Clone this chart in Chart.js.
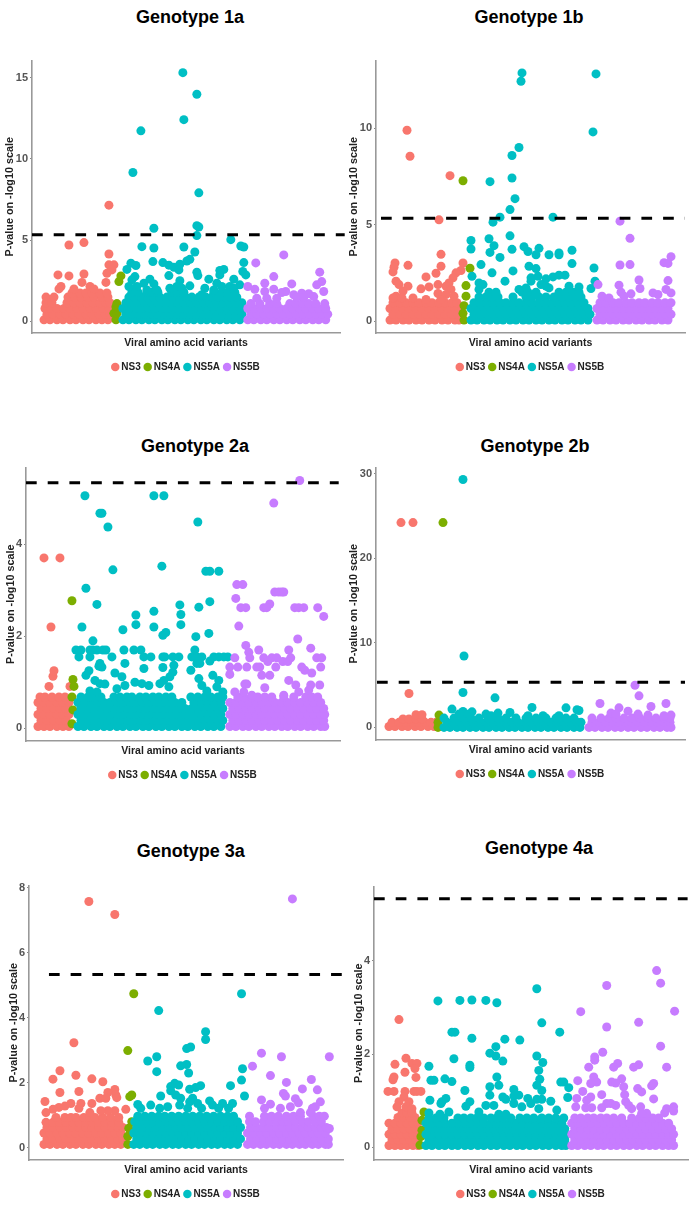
<!DOCTYPE html>
<html>
<head>
<meta charset="utf-8">
<title>Genotypes</title>
<script src="https://cdn.jsdelivr.net/npm/chart.js@4"></script>
<style>
body { margin: 0; background: #fff; }
#wrap { position: relative; width: 693px; height: 1206px; overflow: hidden; }
#wrap canvas { position: absolute; }
.ttl { position: absolute; font: bold 18px "Liberation Sans", Arial, sans-serif; color: #000; transform: translate(-50%, -50%); white-space: nowrap; }
</style>
</head>
<body>
<div id="wrap"></div>
<script>
// rows are [p-value, variant, variant, ...]
const genes = ['NS3', 'NS4A', 'NS5A', 'NS5B'];
const threshold = 5.33;

// Genotype 1a
const ticks1a = [0, 5, 10, 15];
const ns3_1a = [
  [.1,12,18,25,31,38,44,51,57,64,70,76],[.45,15,21,28,34,41,47,54,60,67,73,78],[.8,13,19,25,32,38,45,51,58,64,71,77],
  [1.15,14,20,35,42,48,55,61,68,74,78],[1.5,14,22,36,43,49,56,62,70,76],[1.75,40,48,54,60,68,75],
  [7.15,77],[4.85,52],[4.7,37],[4.15,77],[3.48,77,82],[3.17,80],[2.96,75],[2.92,52],[2.86,26],[2.8,37],[2.4,50,74],[2.15,29,58],[2,27,62,42]
];
const ns4a_1a = [[.1,84],[.5,82,85],[.9,84],[1.1,85],[2.45,87],[2.8,89]];
const ns5a_1a = [
  [.1,91,97,104,110,117,123,130,136,143,149,156,162,169,175,182,188,195,201,208],
  [.45,94,100,107,113,120,126,133,139,146,152,159,165,172,178,185,191,198,204,210],
  [.8,91,97,104,110,117,123,130,136,143,149,156,162,169,175,182,188,195,201,208],
  [1.15,94,100,107,113,120,126,133,139,146,152,159,165,172,178,185,191,198,204,210],
  [1.5,97,103,110,116,122,128,135,141,148,154,160,167,174,180,186,193,199,205],
  [1.8,100,106,115,120,126,140,146,152,182,190,196,203],
  [15.3,151],[13.97,165],[12.41,152],[11.72,109],[9.16,101],[7.91,167],[5.89,165],[5.81,167],[5.73,122],[5.28,165],[5.03,199],
  [4.64,209],[4.6,110],[4.58,152,212],[4.52,122],[4.27,163],[3.82,158],[3.72,155],[3.68,121],[3.62,131,212],[3.58,99],[3.52,148],[3.46,137],[3.44,104],
  [3.33,142],[3.2,95,192],[3.17,147],[3.13,188],[3.07,211],[3.03,165],[2.86,214,188],[2.82,137,166],[2.76,103],[2.6,177,202,118],[2.56,100],[2.5,148],
  [2.35,112,185],[2.31,122],[2.19,158],[2.15,97,105,145,190,198],[2.25,208],[2.04,173,138,150,202],[1.94,115,125,182],[1.64,170]
];
const ns5b_1a = [
  [.1,216,222,229,235,242,248,255,261,268,274,281,287,294],[.45,219,225,232,238,245,251,258,264,271,277,284,290,296],
  [.8,216,222,229,235,242,248,255,261,268,274,281,287,294],[1.1,219,228,238,245,258,264,271,277,284,293],
  [4.09,252],[3.6,224],[3.03,288],[2.76,242],[2.45,290],[2.35,233],[2.31,260],[2.25,285],[2.15,216],[1.98,223,242],[1.84,233,254,292],[1.78,250],[1.74,270],[1.7,277],[1.64,262],
  [1.47,265,272],[1.53,282],[1.43,225,235,245]
];

// Genotype 1b
const ticks1b = [0, 5, 10];
const ns3_1b = [
  [.05,14,20,27,33,40,46,53,59,66,72,79,83],[.35,17,24,30,37,43,50,56,63,69,76,82],[.65,14,20,27,33,40,46,53,59,66,72,79,83],[.95,17,24,30,37,43,50,56,63,69,76,81],
  [9.9,31],[8.55,34],[7.54,74],[5.25,63],[3.46,65],[3.01,19,87],[2.89,32],[2.84,65],[2.79,18],[2.62,85],[2.55,17],[2.5,80],[2.48,60],[2.29,50],[2.24,77],[2.07,20],
  [1.98,73],[1.89,23,62],[1.81,32,70],[1.77,53],[1.67,45],[1.64,75],[1.55,27],[1.43,62],[1.38,70],[1.29,20,78],[1.2,37,26,17],[1.12,50,65]
];
const ns4a_1b = [[7.28,87],[2.74,94],[1.84,90],[1.29,90],[.8,88],[.4,87],[.05,88]];
const ns5a_1b = [
  [.05,95,101,108,114,121,127,134,140,147,153,160,166,173,179,186,192,199,205,212],[.35,98,104,111,117,124,130,137,143,150,156,163,169,176,182,189,195,202,208,214],
  [.65,95,101,108,114,121,127,134,140,147,153,160,166,173,179,186,192,199,205,212],[.95,98,104,111,117,124,130,137,143,150,156,163,169,176,182,189,195,202,208],
  [1.25,103,110,116,122,137,150,156,163,170,178,186,192,199,205],[1.5,113,120,152,146,160,183,190,197,203],
  [12.87,146],[12.82,220],[12.44,145],[9.81,217],[9,143],[8.59,136],[7.42,136],[7.23,114],[6.35,139],[5.78,134],[5.39,124,177],[5.13,117],[4.42,134],[4.27,113],[4.18,95],
  [3.91,118],[3.86,148],[3.77,163],[3.74,95],[3.72,136],[3.67,196],[3.61,152],[3.56,114],[3.53,183],[3.44,160,173,183],[3.3,124],[2.98,196],[2.93,105],[2.84,153],[2.75,218],[2.72,160],
  [2.6,137],[2.5,116],[2.38,183,189],[2.32,96,162],[2.29,177],[2.24,155],[2.19,170],[2.07,129,155,219],[1.98,103],[1.89,107,165],[1.81,170,193],[1.77,203],[1.72,150,173],[1.69,215],[1.64,143,103]
];
const ns5b_1b = [
  [.05,221,227,234,240,247,253,260,266,273,279,286,292],[.35,224,230,237,243,250,256,263,269,276,282,289,295],[.65,221,227,234,240,247,253,260,266,273,279,286,292],
  [.95,224,230,237,243,250,256,263,269,276,282,289,295],
  [5.18,244],[4.29,254],[3.34,295],[3.03,288],[2.99,292],[2.93,254],[2.91,244],[2.13,263],[2.1,292],[1.89,222],[1.86,243],[1.69,264],[1.64,290],[1.5,245],[1.46,277,295],[1.41,255],[1.38,282],[1.29,248,226],[1.2,233]
];

// Genotype 2a
const ticks2a = [0, 2, 4];
const ns3_2a = [
  [.04,12,18,24,31,37,43],[.17,15,21,28,34,40],[.3,12,18,24,31,37,43],[.43,15,21,28,34,40],[.56,12,18,24,31,37,43],[.68,14,19,26,33,39],
  [.91,23,44],[1.13,27],[1.25,28],[2.2,25],[3.7,18,34]
];
const ns4a_2a = [[2.77,46],[1.06,47],[.91,48],[.68,46],[.4,47],[.1,46]];
const ns5a_2a = [
  [.04,52,58,65,71,78,84,91,97,104,110,117,123,130,136,143,149,156,162,169,175,182,188,195],
  [.17,55,62,68,75,81,88,94,101,107,114,120,127,133,140,146,153,159,166,172,179,185,192,197],
  [.3,52,58,65,71,78,84,91,97,104,110,117,123,130,136,143,149,156,162,169,175,182,188,195],
  [.43,55,62,68,75,81,88,94,101,107,114,120,127,133,140,146,153,159,166,172,179,185,192,197],
  [.56,52,58,65,71,78,84,91,97,104,110,117,123,130,136,143,149,156,168,175,182,188,195],
  [.68,55,62,68,75,88,94,101,106,114,120,127,133,140,146,165,172,179,185,192,197],
  [5.05,59,128,138],[4.67,74,76],[4.48,172],[4.37,82],[3.52,136],[3.44,87],[3.41,180,184,193],[3.04,60],[2.75,184],[2.69,71],[2.68,154],[2.63,173],[2.54,128],[2.47,155],[2.46,110],
  [2.25,110,155],[2.2,56,128],[2.14,97],[2.08,140],[2.06,183],[2.02,137],[1.99,170],[1.9,67],
  [1.7,50,55,64,67,71,77,80,98,108,115,169],[1.55,53,64,86,118,125,137,139,147,153,166,171,176,188,193,198,202],
  [1.41,99,74,171,174],[1.46,184],[1.35,73],[1.33,76],[1.3,118],[1.32,137],[1.37,148],[1.26,165],[1.25,63],[1.22,147],[1.2,89],[1.15,60,187],[1.12,96,144],[1.08,173],[1.04,69,138,193],
  [1,109],[.97,74,116,134],[.96,79],[.93,99,123,176],[.9,143,191],[.86,91],[.81,64,181],[.79,71,197]
];
const ns5b_2a = [
  [.04,204,210,217,223,230,236,243,249,256,262,269,275,282,288,295,299],[.17,207,213,220,226,233,239,246,252,259,265,272,278,285,291,298],
  [.3,204,210,217,223,230,236,243,249,256,262,269,275,282,288,295,299],[.43,207,213,220,226,233,239,246,252,259,265,272,278,285,291,298],
  [.56,204,210,217,223,230,236,243,249,256,262,269,275,282,288,295],[.68,212,218,226,232,239,246,258,268,280,286,292],
  [5.38,274],[4.89,248],[3.12,211,217],[2.96,249,253,256,258],[2.82,210],[2.7,244],[2.62,215,220,238,241,269,273,278,292],[2.43,298],[2.22,213],[1.94,272],[1.8,220],[1.74,285],[1.7,233,263],[1.65,223],
  [1.53,209,224,238,246,251,265,291,296],[1.45,242,257,262],[1.33,204,212,221,231,234,250,276,295],[1.26,279],[1.2,286],[1.17,204],[1.15,236,244],[1.04,263],[.96,219,221],[.94,270,285,294],[.88,239],[.83,283],[.79,209,218,273],[.72,226,258]
];

// Genotype 2b
const ticks2b = [0, 10, 20, 30];
const ns3_2b = [
  [.1,13,19,26,32,39,45,52,58],[.6,16,23,29,36,42,49,55,60],[1,27,33,40,46],[1.5,40,46],[4,33],[24.2,25,37]
];
const ns4a_2b = [[0,62],[.6,62],[1.45,63],[24.2,67]];
const ns5a_2b = [
  [0,68,74,81,87,94,100,107,113,120,126,133,139,146,152,159,165,172,178,185,191,198,204],
  [.6,71,77,84,90,97,103,110,116,123,129,136,142,149,155,162,168,175,181,188,194,201,205],
  [1.1,68,78,88,95,103,112,122,130,140,150,160,170,180,190,198],
  [29.3,87],[8.43,88],[4.12,87],[3.49,119],[2.35,156],[2.31,190],[2.16,76],[2.08,201],[2,203],[1.88,87],[1.84,96],[1.76,134],[1.69,122],[1.57,110,83,93],[1.37,167,152,115,183]
];
const ns5b_2b = [
  [0,213,219,226,232,239,245,252,258,265,271,278,284,291,295],[.6,216,223,229,236,242,249,255,262,268,275,281,288,294],[1.1,216,225,233,240,248,256,264,272,280,288,294],
  [4.98,259],[3.73,263],[2.82,224,290],[2.47,275],[2.31,243],[1.92,252],[1.69,235],[1.57,262,240],[1.45,295,272],[1.37,288]
];

// Genotype 3a
const ticks3a = [0, 2, 4, 6, 8];
const ns3_3a = [
  [.1,15,21,28,34,41,47,54,60,67,73,80,86,92],[.27,18,24,31,37,44,50,57,63,70,76,83,89,94],[.45,15,21,28,34,41,47,54,60,67,73,80,86,92],[.62,18,24,31,37,44,50,57,63,70,76,83,89,94],
  [.78,17,24,31,37,44,50,57,63,70,76,83,90],[.93,27,36,42,47,55,61,66,74,82,90],
  [7.58,60],[7.18,86],[3.23,45],[2.37,31],[2.23,47],[2.12,63],[2.11,24],[2.03,74],[1.79,86],[1.73,50],[1.7,31,79],[1.62,87],[1.54,88],[1.52,71,77],[1.42,16],[1.36,63,52,42],[1.28,36],[1.24,30],[1.21,50],[1.18,24,97],[1.14,86,79,72],[1.08,17,61]
];
const ns4a_3a = [[4.74,105],[2.99,99],[1.62,103],[1.57,101],[.8,103],[.6,100],[.35,99],[.1,99]];
const ns5a_3a = [
  [.1,105,111,118,124,131,137,144,150,157,163,170,176,183,189,196,202,209],[.27,108,114,121,127,134,140,147,153,160,166,173,179,186,192,199,205,212],
  [.45,105,111,118,124,131,137,144,150,157,163,170,176,183,189,196,202,209],[.62,108,114,121,127,134,140,147,153,160,166,173,179,186,192,199,205,212],
  [.8,106,111,118,124,131,137,144,150,157,163,170,176,183,189,196,202,209],[.97,109,116,123,130,136,143,150,157,164,171,178,185,192,199,205],
  [4.74,213],[4.22,130],[3.57,177],[3.33,177],[3.1,162],[3.05,158],[2.8,128],[2.67,119],[2.56,158],[2.52,152],[2.43,214],[2.34,128],[2.3,160],[2.08,213],[1.98,146],[1.93,150],[1.91,172,202],
  [1.88,142],[1.85,167],[1.8,161],[1.75,142],[1.62,147],[1.59,132,216],[1.52,152,164],[1.44,181],[1.41,161],[1.36,169,194,204],[1.33,109],[1.31,122,151,184],[1.26,139],[1.21,131,159,112,173,190,200]
];
const ns5b_3a = [
  [.1,219,225,232,238,245,251,258,264,271,277,284,290,297,300],[.27,222,228,235,241,248,254,261,267,274,280,287,293,300],[.45,219,225,232,238,245,251,258,264,271,277,284,290,297],
  [.62,222,228,235,241,248,254,261,267,274,280,287,293,298],[.8,221,227,235,241,248,254,260,267,274,280,287,293],[.97,221,236,243,250,258,265,272,285,291,296],
  [7.66,264],[2.91,233],[2.8,253,301],[2.51,224],[2.22,242],[2.1,283],[2.01,258],[1.81,274],[1.78,289],[1.67,255],[1.59,257],[1.51,267],[1.47,233],[1.41,292],[1.38,270],[1.34,242],[1.26,262,287],[1.21,252,236,284],[1.08,272,282],[.59,301]
];

// Genotype 4a
const ticks4a = [0, 2, 4];
const ns3_4a = [
  [.04,15,21,27,33,39,44],[.16,18,24,30,36,42],[.28,15,21,27,33,39,44],[.4,18,24,30,36,42],[.52,15,21,27,33,39,44],[.64,24,30,36,41],[.74,28,33,38],
  [2.74,25],[1.91,32],[1.8,38,43],[1.78,21],[1.69,41],[1.61,31],[1.51,20],[1.5,42],[1.45,19],[1.2,14,20,31,40,43,47],[1.08,30],[.98,25,35],[.87,23,32],[.83,38]
];
const ns4a_4a = [[.76,50],[.58,48],[.37,48],[.23,47],[.05,46]];
const ns5a_4a = [
  [.04,52,58,65,71,78,84,91,97,104,110,117,123,130,136,143,149,156,162,169,175,182,188,192],
  [.16,55,62,68,75,81,88,94,101,107,114,120,127,133,140,146,153,159,166,172,179,185,191],
  [.28,52,58,65,71,78,84,91,97,104,110,117,123,130,136,143,149,156,162,169,175,182,188,192],
  [.4,55,62,68,75,81,88,94,101,107,114,120,127,133,140,146,153,159,166,172,179,185,191],
  [.52,52,58,65,71,78,84,91,97,104,110,117,123,130,136,143,149,156,162,169,175,182,188],
  [.63,55,62,70,84,90,97,103,110,117,123,129,137,146,153,160,168,175,182,190],
  [3.4,163],[3.16,98],[3.15,86,112],[3.14,64],[3.1,123],[2.67,168],[2.47,78,81,186],[2.34,98],[2.32,131],[2.3,146],[2.16,122],[2.02,116],[1.96,122,163],[1.9,80],[1.85,129],[1.82,169],[1.76,96],[1.74,55],[1.71,96],
  [1.65,165],[1.51,123],[1.47,71],[1.46,166],[1.44,57,60],[1.41,78],[1.4,187,190],[1.33,125,163],[1.3,116],[1.28,195],[1.24,140],[1.22,91,168],[1.12,116,145],[1.1,140],[1.08,129],[1.07,194],
  [1.05,72,154],[1.03,132,163,168],[1.01,56],[.99,177],[.98,68,96],[.94,67,140,157],[.9,120,112],[.88,92],[.87,148],[.83,165],[.8,183],[.76,75,105],[.74,55],[.71,66,125,132]
];
const ns5b_4a = [
  [.04,198,204,211,217,224,230,237,243,250,256,263,269,276,282,289,295,300],[.16,201,207,214,220,227,233,240,246,253,259,266,272,279,285,292,298],
  [.28,198,204,211,217,224,230,237,243,250,256,263,269,276,282,289,295,300],[.4,201,207,214,220,227,233,240,246,253,259,266,272,279,285,292,298],
  [.52,198,204,211,217,224,230,237,243,250,256,263,269,276,282,289,295],[.63,201,207,214,220,227,233,240,248,258,266,272,279,285],
  [3.79,283],[3.52,287],[3.47,233],[2.92,301],[2.91,207],[2.68,265],[2.58,233],[2.17,287],[2.04,229],[1.94,221],[1.87,221],[1.8,244],[1.77,265],[1.72,215,240,260,293],[1.51,220],[1.47,248],[1.43,204],
  [1.4,223,238],[1.38,242],[1.37,217,280],[1.32,278],[1.3,250],[1.26,264],[1.2,209],[1.19,268],[1.13,228,251],[1.08,217],[1.05,203],[1.04,280],[1.01,213],[.98,252],[.94,233,237],[.9,242,255],
  [.87,202,267,300],[.83,258,293],[.85,218,228,212],[.78,300],[.74,291],[.73,273,268]
];

const colors = ['#F8766D', '#7CAE00', '#00BFC4', '#C77CFF'];

// positions of each panel on the page
const panels = [
  { title: 'Genotype 1a', tx: 190, ty: 17, l: 31.7, t: 60, r: 340, b: 333.3, w: 30, ymin: -0.71, ymax: 16.04, ticks: ticks1a, dashFrom: 0, dashTo: 313, rows: [ns3_1a, ns4a_1a, ns5a_1a, ns5b_1a] },
  { title: 'Genotype 1b', tx: 529, ty: 17, l: 376, t: 60, r: 685, b: 333.7, w: 30, ymin: -0.62, ymax: 13.51, ticks: ticks1b, dashFrom: 5, dashTo: 309, rows: [ns3_1b, ns4a_1b, ns5a_1b, ns5b_1b] },
  { title: 'Genotype 2a', tx: 195, ty: 445.7, l: 25.7, t: 466.7, r: 340, b: 741, w: 23, ymin: -0.275, ymax: 5.66, ticks: ticks2a, dashFrom: 0, dashTo: 313, rows: [ns3_2a, ns4a_2a, ns5a_2a, ns5b_2a] },
  { title: 'Genotype 2b', tx: 535, ty: 445.7, l: 376, t: 467.3, r: 685, b: 741, w: 30, ymin: -1.49, ymax: 30.7, ticks: ticks2b, dashFrom: 1, dashTo: 309, rows: [ns3_2b, ns4a_2b, ns5a_2b, ns5b_2b] },
  { title: 'Genotype 3a', tx: 190.7, ty: 850.7, l: 29.3, t: 885, r: 344, b: 1160, w: 23, ymin: -0.38, ymax: 8.07, ticks: ticks3a, dashFrom: 20, dashTo: 315, rows: [ns3_3a, ns4a_3a, ns5a_3a, ns5b_3a] },
  { title: 'Genotype 4a', tx: 539, ty: 848, l: 374.3, t: 886, r: 688.7, b: 1160, w: 23, ymin: -0.27, ymax: 5.59, ticks: ticks4a, dashFrom: 0, dashTo: 314, rows: [ns3_4a, ns4a_4a, ns5a_4a, ns5b_4a] }
];

function toPoints(rows) {
  return rows.flatMap(([y, ...xs]) => xs.map(x => ({ x, y })));
}

const wrap = document.getElementById('wrap');

panels.forEach(function(p) {
  const head = document.createElement('div');
  head.className = 'ttl';
  head.textContent = p.title;
  head.style.left = p.tx + 'px';
  head.style.top = p.ty + 'px';
  wrap.appendChild(head);

  const plotW = p.r - p.l;
  const canvas = document.createElement('canvas');
  canvas.style.left = (p.l - p.w) + 'px';
  canvas.style.top = (p.t - 8) + 'px';
  canvas.width = p.w + plotW + p.w + 2;
  canvas.height = 8 + (p.b - p.t) + 23 + 26;
  wrap.appendChild(canvas);

  const datasets = genes.map((g, i) => ({
    type: 'scatter',
    label: g,
    data: toPoints(p.rows[i]),
    backgroundColor: colors[i],
    borderWidth: 0,
    pointRadius: 4.5,
    pointHoverRadius: 4.5,
    clip: false,
    order: 5 - i
  }));
  datasets.push({
    type: 'line',
    label: 'threshold',
    data: [{ x: p.dashFrom, y: threshold }, { x: p.dashTo, y: threshold }],
    borderColor: '#000',
    borderWidth: 3,
    borderDash: [10.7, 11],
    pointRadius: 0,
    clip: false,
    order: 0
  });

  new Chart(canvas, {
    data: { datasets: datasets },
    options: {
      responsive: false,
      animation: false,
      layout: { padding: { top: 8 } },
      scales: {
        x: {
          type: 'linear',
          min: 0,
          max: plotW,
          afterFit: s => { s.height = 23; },
          grid: { display: false },
          border: { color: '#999', width: 1.6 },
          ticks: { display: false },
          title: {
            display: true,
            text: 'Viral amino acid variants',
            color: '#222',
            font: { family: '"Liberation Sans"', size: 10.5, weight: 'bold' },
            padding: { top: 4, bottom: 7 }
          }
        },
        y: {
          min: p.ymin,
          max: p.ymax,
          afterBuildTicks: s => { s.ticks = p.ticks.map(v => ({ value: v })); },
          afterFit: s => { s.width = p.w; },
          grid: { drawOnChartArea: false, tickLength: 2, color: '#888' },
          border: { color: '#999', width: 1.6 },
          ticks: { color: '#555', padding: 2, font: { family: '"Liberation Sans"', size: 11, weight: 'bold' } },
          title: {
            display: true,
            text: 'P-value on -log10 scale',
            color: '#222',
            font: { family: '"Liberation Sans"', size: 10.8, weight: 'bold' },
            padding: 2
          }
        },
        // empty axis on the right, keeps the legend centred under the plot
        spacer: {
          position: 'right',
          afterFit: s => { s.width = p.w + 2; },
          grid: { display: false },
          border: { display: false },
          ticks: { display: false }
        }
      },
      plugins: {
        tooltip: { enabled: false },
        legend: {
          position: 'bottom',
          labels: {
            usePointStyle: true,
            pointStyle: 'circle',
            boxWidth: 2,
            boxHeight: 6,
            padding: 6,
            color: '#222',
            font: { family: '"Liberation Sans"', size: 10, weight: 'bold' },
            sort: (a, b) => a.datasetIndex - b.datasetIndex,
            filter: item => item.text !== 'threshold'
          }
        }
      }
    }
  });
});
</script>
</body>
</html>
